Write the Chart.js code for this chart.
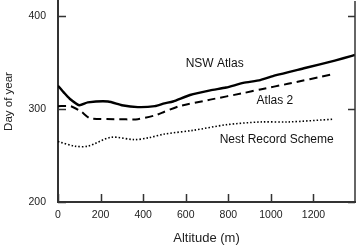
<!DOCTYPE html>
<html>
<head>
<meta charset="utf-8">
<script src="https://cdn.jsdelivr.net/npm/chart.js@4.4.0/dist/chart.umd.min.js"></script>
<style>
  html, body { margin: 0; padding: 0; background: #fff; }
  #wrap { width: 358px; height: 248px; }
</style>
</head>
<body>
<div id="wrap"><canvas id="grafico" width="358" height="248"></canvas></div>
<script>
// altitude (m) / day of year
const altNsw = [0, 30, 55, 100, 140, 235, 300, 375, 455, 500, 540, 620, 715, 790, 870, 950, 1020, 1160, 1300, 1380, 1395];
const diaNsw = [325, 317, 311, 304, 307, 308, 304, 302, 303, 306, 308, 315, 320, 323, 328, 331, 336, 344, 352, 357, 358];

const altAtlas2 = [0, 60, 110, 150, 265, 375, 455, 500, 570, 715, 870, 950, 1080, 1285];
const diaAtlas2 = [303, 303, 297, 290, 289, 289, 293, 297, 303, 310, 317, 321, 327, 337];

const altNest = [0, 80, 140, 250, 360, 425, 500, 635, 790, 950, 1080, 1295];
const diaNest = [265, 260, 260, 269.5, 267, 269, 273, 277, 283, 286, 286, 289];

const xTicks = [0, 200, 400, 600, 800, 1000, 1200];
const yTicks = [200, 300, 400];

const seriesNames = ['NSW Atlas', 'Atlas 2', 'Nest Record Scheme'];
// label anchors, in data units (altitude, day)
const labelAlt = [736, 1019, 1027];
const labelDia = [349, 308.4, 266.6];

const fonte = '"Liberation Sans", Arial, Helvetica, sans-serif';
const corEixo = '#333';

const pontos = (xs, ys) => xs.map((x, i) => ({ x: x, y: ys[i] }));

const eixosPlugin = {
  id: 'eixosInternos',
  afterDraw(chart) {
    const ctx = chart.ctx;
    const a = chart.chartArea;
    const sx = chart.scales.x, sy = chart.scales.y;
    ctx.save();
    ctx.strokeStyle = corEixo;
    // right border
    ctx.lineWidth = 1.5;
    ctx.beginPath();
    ctx.moveTo(a.right, a.top);
    ctx.lineTo(a.right, a.bottom);
    ctx.stroke();
    // inward ticks
    ctx.lineWidth = 1.5;
    ctx.beginPath();
    yTicks.forEach(v => {
      const py = Math.round(sy.getPixelForValue(v)) + 0.5;
      ctx.moveTo(a.left, py); ctx.lineTo(a.left + 8, py);
      ctx.moveTo(a.right, py); ctx.lineTo(a.right - 7, py);
    });
    xTicks.forEach(v => {
      const px = Math.round(sx.getPixelForValue(v)) + 0.5;
      ctx.moveTo(px, a.bottom); ctx.lineTo(px, a.bottom - 8);
    });
    ctx.stroke();
    // series labels
    ctx.fillStyle = '#111';
    ctx.font = '12px ' + fonte;
    ctx.textAlign = 'center';
    ctx.textBaseline = 'middle';
    seriesNames.forEach((t, i) => {
      ctx.fillText(t, sx.getPixelForValue(labelAlt[i]), sy.getPixelForValue(labelDia[i]));
    });
    ctx.restore();
  }
};

document.addEventListener('DOMContentLoaded', function () {
  const canvas = document.getElementById('grafico');
  new Chart(canvas.getContext('2d'), {
    type: 'line',
    data: {
      datasets: [
        { label: seriesNames[0], data: pontos(altNsw, diaNsw), borderColor: '#000', borderWidth: 2.4, tension: 0.2, pointRadius: 0, fill: false },
        { label: seriesNames[1], data: pontos(altAtlas2, diaAtlas2), borderColor: '#000', borderWidth: 2, borderDash: [8, 5], tension: 0.2, pointRadius: 0, fill: false },
        { label: seriesNames[2], data: pontos(altNest, diaNest), borderColor: '#000', borderWidth: 1.6, borderDash: [1.5, 2], tension: 0.3, pointRadius: 0, fill: false }
      ]
    },
    options: {
      responsive: false,
      animation: false,
      layout: { padding: { top: 1, right: 3, bottom: 0, left: 0 } },
      plugins: { legend: { display: false }, tooltip: { enabled: false } },
      scales: {
        x: {
          type: 'linear', position: 'bottom', min: 0, max: 1395,
          afterBuildTicks: s => { s.ticks = xTicks.map(v => ({ value: v })); },
          afterFit: s => { s.height = 46; s.paddingLeft = 0; s.paddingRight = 0; },
          grid: { display: false, drawTicks: false },
          border: { display: true, color: corEixo, width: 2 },
          ticks: { color: '#222', font: { family: fonte, size: 10.5 }, padding: 7, maxRotation: 0, autoSkip: false, callback: v => String(v) },
          title: { display: true, text: 'Altitude (m)', color: '#222', font: { family: fonte, size: 13 }, padding: { top: 0, bottom: 2 } }
        },
        y: {
          type: 'linear', position: 'left', min: 200, max: 416,
          afterBuildTicks: s => { s.ticks = yTicks.map(v => ({ value: v })); },
          afterFit: s => { s.width = 58; s.paddingTop = 0; s.paddingBottom = 0; },
          grid: { display: false, drawTicks: false },
          border: { display: true, color: corEixo, width: 2 },
          ticks: { color: '#222', font: { family: fonte, size: 10.5 }, padding: 12, callback: v => String(v) },
          title: { display: true, text: 'Day of year', color: '#222', font: { family: fonte, size: 11.5 }, padding: { top: 2, bottom: 0 } }
        }
      }
    },
    plugins: [eixosPlugin]
  });
});
</script>
</body>
</html>
